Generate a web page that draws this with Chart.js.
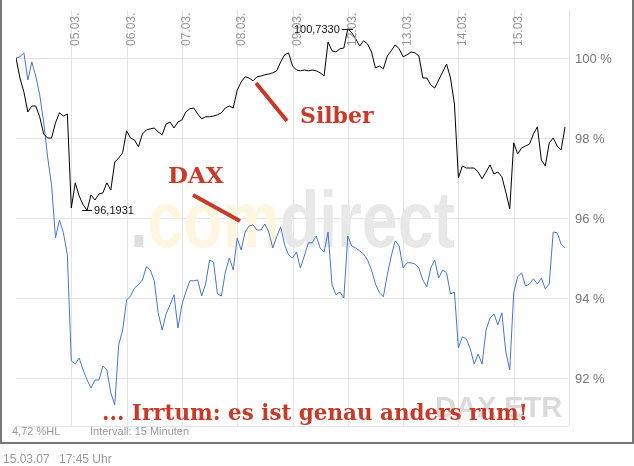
<!DOCTYPE html>
<html>
<head>
<meta charset="utf-8">
<script src="https://cdn.jsdelivr.net/npm/chart.js@4.4.1/dist/chart.umd.min.js"></script>
<style>
  html, body { margin: 0; padding: 0; background: #fff; }
  #wrap { width: 634px; height: 466px; }
</style>
</head>
<body>
<div id="wrap"><canvas id="myChart" width="634" height="466"></canvas></div>
<script>
'use strict'
// DATA (15 min bars, thinned to 14 per trading day)
let dayLabels = ['05.03.', '06.03.', '07.03.', '08.03.', '09.03.', '12.03.', '13.03.', '14.03.', '15.03.'];
let pointsPerDay = 14;
let yTicks = [92, 94, 96, 98, 100];

let silberValues = [
  100.00, 99.50, 99.15, 98.65, 98.80, 98.80, 98.53, 98.10, 98.00, 98.00, 98.38, 98.63, 98.55, 98.60,
  96.25, 96.88, 96.55, 96.33, 96.1931, 96.58, 96.45, 96.60, 96.63, 96.88, 96.70, 97.40, 97.50, 97.63,
  98.18, 98.00, 97.95, 97.78, 98.10, 98.20, 98.23, 98.25, 98.15, 98.08, 98.35, 98.40, 98.25, 98.40,
  98.45, 98.65, 98.73, 98.75, 98.60, 98.48, 98.53, 98.53, 98.55, 98.58, 98.63, 98.75, 98.80, 98.75,
  99.20, 99.40, 99.53, 99.50, 99.43, 99.53, 99.55, 99.58, 99.60, 99.63, 99.68, 99.90, 100.08, 100.13,
  99.80, 99.70, 99.68, 99.70, 99.68, 99.70, 99.68, 99.63, 99.55, 100.40, 100.18, 100.15, 100.23, 100.25,
  100.733, 100.63, 100.48, 100.30, 100.43, 100.35, 100.15, 99.75, 99.80, 99.73, 100.05, 100.18, 100.33, 100.23,
  100.03, 100.08, 100.15, 100.13, 100.05, 99.50, 99.50, 99.33, 99.25, 99.45, 99.65, 99.85, 99.50, 98.85,
  97.00, 97.30, 97.25, 97.25, 97.25, 97.15, 96.98, 97.15, 97.33, 97.10, 97.15, 97.03, 96.65, 96.23,
  97.88, 97.60, 97.75, 97.80, 97.85, 98.10, 98.28, 97.45, 97.30, 97.88, 98.00, 97.80, 97.70, 98.28
];

let daxValues = [
  100.00, 100.03, 100.13, 99.45, 99.90, 99.55, 99.08, 98.40, 97.53, 96.83, 95.50, 95.95, 95.63, 95.08,
  92.43, 92.35, 92.50, 92.20, 91.95, 91.75, 91.95, 91.95, 92.30, 92.20, 91.63, 91.33, 92.83, 93.20,
  93.95, 94.05, 94.25, 94.33, 94.45, 94.78, 94.70, 94.43, 93.63, 93.20, 93.60, 93.83, 94.08, 93.25,
  93.83, 94.15, 94.43, 94.43, 94.45, 94.05, 94.35, 94.95, 94.90, 94.10, 94.05, 94.65, 95.00, 94.70,
  95.50, 95.20, 95.65, 95.80, 95.83, 95.70, 95.70, 95.85, 95.65, 95.25, 95.53, 95.78, 95.33, 95.08,
  95.00, 95.15, 94.75, 95.05, 95.38, 95.38, 95.55, 95.25, 95.15, 95.65, 94.33, 94.08, 94.15, 94.00,
  95.55, 95.30, 95.25, 95.18, 95.10, 94.95, 94.70, 94.35, 94.13, 94.03, 94.58, 95.05, 95.43, 95.30,
  94.75, 94.88, 94.88, 94.85, 94.75, 94.45, 94.28, 94.75, 94.95, 94.50, 94.70, 94.63, 94.10, 94.15,
  92.75, 93.03, 92.98, 92.73, 92.35, 92.60, 92.35, 93.20, 93.50, 93.60, 93.33, 93.63, 92.65, 92.20,
  94.13, 94.53, 94.63, 94.30, 94.35, 94.48, 94.35, 94.50, 94.23, 94.35, 95.65, 95.63, 95.35, 95.25
];

let sans = '"Liberation Sans", Arial, sans-serif';
let serif = '"DejaVu Serif", serif';
let red = '#c53a28';

function toPoints(values) {
  return values.map((v, i) => ({ x: i / pointsPerDay, y: v }));
}

function line(ctx, x1, y1, x2, y2) {
  ctx.beginPath();
  ctx.moveTo(x1, y1);
  ctx.lineTo(x2, y2);
  ctx.stroke();
}

function fmt(v) {
  return v.toFixed(4).replace('.', ',');
}

// grid + watermark under the lines
const backdrop = {
  id: 'backdrop',
  beforeDatasetsDraw(chart) {
    let ctx = chart.ctx, a = chart.chartArea, x = chart.scales.x, y = chart.scales.y;
    ctx.save();
    ctx.strokeStyle = '#e4e4e4';
    ctx.lineWidth = 1;
    yTicks.forEach(v => {
      let py = Math.round(y.getPixelForValue(v)) + 0.5;
      line(ctx, a.left, py, a.right, py);
    });
    dayLabels.forEach((l, i) => {
      let px = Math.round(x.getPixelForValue(i + 1)) + 0.5;
      line(ctx, px, a.top, px, a.bottom);
    });
    line(ctx, Math.round(a.right) + 0.5, a.top, Math.round(a.right) + 0.5, a.bottom);
    line(ctx, a.left, Math.round(a.bottom) + 0.5, a.right, Math.round(a.bottom) + 0.5);

    // .comdirect
    ctx.font = 'bold 80px ' + sans;
    ctx.textBaseline = 'alphabetic';
    let parts = [['.', '#e0e0e0'], ['com', '#fef6e1'], ['direct', '#e8e8e8']];
    let full = ctx.measureText('.comdirect').width;
    let sx = 325 / full;
    ctx.save();
    ctx.translate(130, 247);
    ctx.scale(sx, 1);
    let cx = 0;
    parts.forEach(p => {
      ctx.fillStyle = p[1];
      ctx.fillText(p[0], cx, 0);
      cx += ctx.measureText(p[0]).width;
    });
    ctx.restore();

    ctx.font = 'bold 29px ' + sans;
    ctx.fillStyle = '#dadada';
    ctx.fillText('DAX ETR', 435, 417);
    ctx.restore();
  }
};

// labels, notes, frame over the lines
const overlay = {
  id: 'overlay',
  afterDatasetsDraw(chart) {
    let ctx = chart.ctx, x = chart.scales.x, y = chart.scales.y;
    ctx.save();

    ctx.fillStyle = '#999';
    ctx.font = '12px ' + sans;
    dayLabels.forEach((l, i) => {
      let px = Math.round(x.getPixelForValue(i + 1));
      ctx.save();
      ctx.translate(px - 1, 46);
      ctx.rotate(-Math.PI / 2);
      ctx.textAlign = 'left';
      ctx.textBaseline = 'top';
      ctx.fillText(l, 0, 0);
      ctx.restore();
    });

    ctx.fillStyle = '#777';
    ctx.font = '13px ' + sans;
    ctx.textBaseline = 'middle';
    yTicks.forEach(v => {
      ctx.fillText(v + ' %', 575, y.getPixelForValue(v) + 1);
    });

    // max / min of Silber
    let maxI = 0, minI = 0;
    silberValues.forEach((v, i) => {
      if (v > silberValues[maxI]) maxI = i;
      if (v < silberValues[minI]) minI = i;
    });
    ctx.fillStyle = '#111';
    ctx.strokeStyle = '#111';
    ctx.lineWidth = 1;
    ctx.font = '11px ' + sans;
    let mx = x.getPixelForValue(maxI / pointsPerDay), my = Math.round(y.getPixelForValue(silberValues[maxI])) + 0.5;
    line(ctx, mx - 6, my, mx + 5, my);
    ctx.textAlign = 'right';
    ctx.fillText(fmt(silberValues[maxI]), mx - 8, my);
    let nx = x.getPixelForValue(minI / pointsPerDay), ny = Math.round(y.getPixelForValue(silberValues[minI])) + 0.5;
    line(ctx, nx - 5, ny, nx + 5, ny);
    ctx.textAlign = 'left';
    ctx.fillText(fmt(silberValues[minI]), nx + 7, ny);

    // red notes
    ctx.strokeStyle = red;
    ctx.fillStyle = red;
    ctx.lineWidth = 4;
    line(ctx, 256, 83, 287, 121);
    line(ctx, 193, 195, 240, 221);
    ctx.textBaseline = 'alphabetic';
    ctx.font = 'bold 22px ' + serif;
    ctx.fillText('Silber', 300, 123);
    ctx.font = 'bold 23px ' + serif;
    ctx.fillText('DAX', 168, 183);
    ctx.font = 'bold 22px ' + serif;
    let note = '... Irrtum: es ist genau anders rum!';
    let w = ctx.measureText(note).width;
    ctx.save();
    ctx.translate(102, 420);
    ctx.scale(426 / w, 1);
    ctx.fillText(note, 0, 0);
    ctx.restore();

    // footer
    ctx.fillStyle = '#999';
    ctx.font = '11px ' + sans;
    ctx.fillText('4,72 %HL', 12, 435);
    ctx.fillText('Intervall: 15 Minuten', 90, 435);
    ctx.font = '12px ' + sans;
    ctx.fillText('15.03.07', 3, 463);
    ctx.fillText('17:45 Uhr', 59, 463);

    // frame
    ctx.strokeStyle = '#777';
    ctx.lineWidth = 2;
    ctx.strokeRect(1, -3, 632, 446);
    ctx.restore();
  }
};

const ctx = document.getElementById('myChart');

new Chart(ctx, {
  type: 'line',
  data: {
    datasets: [
      {
        label: 'Silber',
        data: toPoints(silberValues),
        borderColor: '#000',
        borderWidth: 1,
        pointRadius: 0,
        tension: 0
      },
      {
        label: 'DAX',
        data: toPoints(daxValues),
        borderColor: '#4a74cc',
        borderWidth: 1,
        pointRadius: 0,
        tension: 0
      }
    ]
  },
  options: {
    responsive: false,
    animation: false,
    devicePixelRatio: 1,
    layout: { padding: { left: 16, top: 10, right: 65, bottom: 40 } },
    plugins: { legend: { display: false }, tooltip: { enabled: false } },
    scales: {
      x: { type: 'linear', min: 0, max: 10, display: false },
      y: { type: 'linear', min: 90.8, max: 101.2, display: false }
    }
  },
  plugins: [backdrop, overlay]
});
</script>
</body>
</html>
